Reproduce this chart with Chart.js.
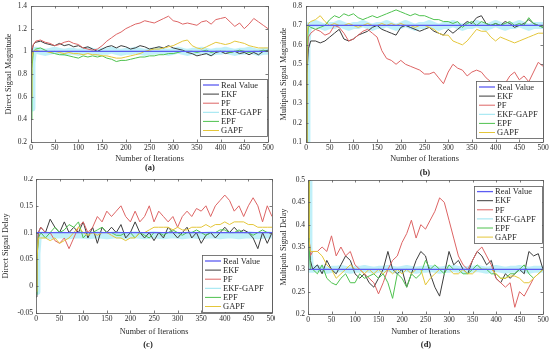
<!DOCTYPE html>
<html>
<head>
<meta charset="utf-8">
<script src="https://cdn.jsdelivr.net/npm/chart.js@4.4.0/dist/chart.umd.min.js"></script>
<style>
  html, body { margin: 0; padding: 0; background: #fff; }
  #wrap { position: relative; width: 550px; height: 352px; overflow: hidden; }
  #wrap canvas { position: absolute; }
  .lbl { position: absolute; font: bold 8.5px "Liberation Serif", serif; color: #222; transform: translate(-50%, -50%); white-space: nowrap; }
</style>
</head>
<body>
<div id="wrap">
  <canvas id="chartA" width="275" height="176" style="left:0;top:0"></canvas>
  <canvas id="chartB" width="275" height="176" style="left:275px;top:0"></canvas>
  <canvas id="chartC" width="275" height="176" style="left:0;top:176px"></canvas>
  <canvas id="chartD" width="275" height="176" style="left:275px;top:176px"></canvas>
  <div class="lbl" style="left:150px;top:167px">(a)</div>
  <div class="lbl" style="left:425px;top:172px">(b)</div>
  <div class="lbl" style="left:148px;top:344px">(c)</div>
  <div class="lbl" style="left:426px;top:344px">(d)</div>
</div>
<script>
// DATA
const iterations = [0, 2, 5, 10, 20, 30, 40, 50, 60, 70,
  80, 90, 100, 110, 120, 130, 140, 150, 160, 170,
  180, 190, 200, 210, 220, 230, 240, 250, 260, 270,
  280, 290, 300, 310, 320, 330, 340, 350, 360, 370,
  380, 390, 400, 410, 420, 430, 440, 450, 460, 470,
  480, 490, 500];
const seriesNames = ['Real Value', 'EKF', 'PF', 'EKF-GAPF', 'EPF', 'GAPF'];

// (a) direct signal magnitude
const realValueA = 1.0;
const ekfA = [0.9, 1.0, 1.06, 1.08, 1.09, 1.07, 1.06, 1.05, 1.07, 1.05,
  1.06, 1.04, 1.05, 1.03, 1.04, 1.02, 1.0, 1.02, 1.04, 1.05,
  1.03, 1.05, 1.04, 1.02, 1.03, 1.05, 1.04, 1.02, 1.03, 1.04,
  1.03, 1.05, 1.03, 1.02, 1.01, 0.99, 0.98, 0.96, 0.97, 0.98,
  0.96, 0.99, 1.0, 0.98, 0.99, 1.0, 0.98, 0.99, 0.97, 0.99,
  0.97, 1.0, 1.01];
const pfA = [0.95, 1.02, 1.06, 1.09, 1.1, 1.08, 1.07, 1.05, 1.06, 1.08,
  1.09, 1.07, 1.06, 1.03, 1.02, 1.01, 1.02, 1.05, 1.09, 1.12,
  1.15, 1.17, 1.2, 1.22, 1.24, 1.25, 1.27, 1.26, 1.25, 1.27,
  1.29, 1.31, 1.27, 1.26, 1.24, 1.25, 1.24, 1.23, 1.26, 1.27,
  1.24, 1.28, 1.29, 1.3, 1.26, 1.22, 1.25, 1.2, 1.24, 1.29,
  1.26, 1.23, 1.2];
const ekfgapfA = [0.5, 0.9, 1.0, 1.01, 1.0, 0.99, 1.0, 1.01, 1.0, 0.99,
  1.0, 1.0, 0.99, 1.0, 1.01, 1.0, 0.99, 1.0, 1.0, 1.01,
  1.0, 0.99, 1.0, 1.0, 1.01, 1.0, 0.99, 1.0, 1.0, 1.01,
  1.0, 0.99, 1.0, 1.01, 1.0, 0.99, 1.0, 1.0, 1.01, 1.0,
  0.99, 1.0, 1.0, 1.01, 1.0, 0.99, 1.0, 1.0, 1.01, 1.0,
  0.99, 1.0, 1.0];
const epfA = [0.4, 0.85, 1.0, 1.02, 1.03, 1.01, 0.99, 0.98, 0.97, 0.97,
  0.96, 0.95, 0.94, 0.96, 0.95, 0.96, 0.95, 0.96, 0.94, 0.93,
  0.91, 0.92, 0.92, 0.93, 0.94, 0.95, 0.95, 0.96, 0.96, 0.97,
  0.97, 0.98, 0.98, 0.99, 1.0, 1.0, 1.0, 0.99, 1.0, 1.01,
  0.99, 1.0, 1.0, 1.0, 0.99, 1.0, 1.01, 1.0, 0.99, 1.0,
  1.0, 1.01, 1.0];
const gapfA = [0.6, 0.95, 1.0, 1.01, 1.0, 1.0, 0.99, 1.0, 0.99, 0.98,
  0.99, 0.98, 0.98, 0.97, 0.98, 0.97, 0.97, 0.96, 0.96, 0.95,
  0.94, 0.94, 0.95, 0.96, 0.97, 0.98, 1.0, 1.01, 1.02, 1.02,
  1.03, 1.04, 1.05, 1.07, 1.09, 1.1, 1.05, 1.03, 1.02, 1.04,
  1.06, 1.08, 1.07, 1.06, 1.07, 1.09, 1.08, 1.07, 1.05, 1.04,
  1.03, 1.03, 1.03];

// (b) multipath signal magnitude
const realValueB = 0.7;
const ekfB = [0.1, 0.45, 0.58, 0.62, 0.62, 0.61, 0.62, 0.64, 0.66, 0.68,
  0.63, 0.62, 0.63, 0.65, 0.66, 0.67, 0.69, 0.7, 0.68, 0.67,
  0.66, 0.65, 0.69, 0.7, 0.69, 0.68, 0.67, 0.68, 0.69, 0.67,
  0.66, 0.65, 0.68, 0.66, 0.68, 0.7, 0.72, 0.71, 0.74, 0.75,
  0.71, 0.7, 0.71, 0.7, 0.72, 0.71, 0.69, 0.7, 0.71, 0.73,
  0.71, 0.7, 0.69];
const pfB = [0.1, 0.5, 0.64, 0.66, 0.68, 0.67, 0.65, 0.66, 0.7, 0.69,
  0.66, 0.62, 0.63, 0.65, 0.67, 0.68, 0.66, 0.64, 0.57, 0.53,
  0.52, 0.5, 0.52, 0.5, 0.49, 0.48, 0.47, 0.45, 0.45, 0.46,
  0.43, 0.4, 0.46, 0.5, 0.48, 0.47, 0.44, 0.46, 0.47, 0.46,
  0.43, 0.41, 0.39, 0.4, 0.4, 0.44, 0.46, 0.42, 0.44, 0.41,
  0.46, 0.51, 0.49];
const ekfgapfB = [0.1, 0.6, 0.7, 0.7, 0.71, 0.7, 0.69, 0.7, 0.7, 0.71,
  0.7, 0.69, 0.7, 0.7, 0.71, 0.7, 0.69, 0.7, 0.7, 0.71,
  0.7, 0.69, 0.7, 0.71, 0.7, 0.69, 0.7, 0.7, 0.71, 0.7,
  0.69, 0.7, 0.7, 0.71, 0.7, 0.69, 0.7, 0.7, 0.71, 0.7,
  0.69, 0.7, 0.71, 0.7, 0.69, 0.7, 0.7, 0.71, 0.7, 0.69,
  0.7, 0.7, 0.7];
const epfB = [0.1, 0.55, 0.7, 0.69, 0.68, 0.69, 0.7, 0.73, 0.75, 0.74,
  0.76, 0.75, 0.76, 0.74, 0.73, 0.74, 0.75, 0.74, 0.75, 0.76,
  0.77, 0.78, 0.77, 0.76, 0.75, 0.76, 0.75, 0.75, 0.74, 0.73,
  0.73, 0.72, 0.72, 0.71, 0.72, 0.69, 0.71, 0.72, 0.7, 0.72,
  0.71, 0.7, 0.71, 0.7, 0.71, 0.72, 0.7, 0.71, 0.7, 0.74,
  0.71, 0.7, 0.69];
const gapfB = [0.1, 0.65, 0.71, 0.72, 0.73, 0.75, 0.72, 0.7, 0.71, 0.7,
  0.7, 0.71, 0.7, 0.69, 0.7, 0.71, 0.7, 0.7, 0.71, 0.7,
  0.71, 0.7, 0.71, 0.7, 0.7, 0.69, 0.7, 0.7, 0.69, 0.68,
  0.66, 0.65, 0.65, 0.62, 0.61, 0.6, 0.62, 0.65, 0.68, 0.67,
  0.67, 0.64, 0.62, 0.64, 0.63, 0.62, 0.61, 0.62, 0.63, 0.64,
  0.65, 0.66, 0.66];

// (c) direct signal delay
const realValueC = 0.1;
const ekfC = [-0.02, 0.05, 0.1, 0.11, 0.1, 0.125, 0.11, 0.1, 0.12, 0.1,
  0.11, 0.1, 0.12, 0.09, 0.11, 0.08, 0.11, 0.1, 0.11, 0.1,
  0.115, 0.09, 0.1, 0.12, 0.1, 0.09, 0.1, 0.085, 0.1, 0.09,
  0.11, 0.1, 0.09, 0.1, 0.11, 0.09, 0.1, 0.08, 0.095, 0.1,
  0.09, 0.1, 0.11, 0.1, 0.11, 0.1, 0.105, 0.1, 0.09, 0.07,
  0.1, 0.08, 0.1];
const pfC = [0.0, 0.06, 0.1, 0.11, 0.1, 0.1, 0.085, 0.08, 0.09, 0.07,
  0.09, 0.11, 0.12, 0.1, 0.11, 0.13, 0.12, 0.14, 0.13, 0.14,
  0.15, 0.13, 0.12, 0.14, 0.12, 0.13, 0.15, 0.12, 0.14, 0.13,
  0.12, 0.13, 0.11, 0.13, 0.14, 0.13, 0.145, 0.14, 0.15, 0.13,
  0.15, 0.16, 0.17, 0.16, 0.14, 0.15, 0.13, 0.15, 0.165, 0.15,
  0.12, 0.15, 0.13];
const ekfgapfC = [-0.01, 0.06, 0.095, 0.095, 0.096, 0.094, 0.095, 0.096, 0.095, 0.094,
  0.095, 0.096, 0.095, 0.094, 0.095, 0.096, 0.095, 0.094, 0.095, 0.096,
  0.095, 0.094, 0.095, 0.096, 0.095, 0.094, 0.095, 0.096, 0.095, 0.094,
  0.095, 0.096, 0.095, 0.094, 0.095, 0.096, 0.095, 0.094, 0.095, 0.096,
  0.095, 0.094, 0.095, 0.096, 0.095, 0.094, 0.095, 0.096, 0.095, 0.094,
  0.095, 0.096, 0.095];
const epfC = [-0.015, 0.05, 0.09, 0.1, 0.09, 0.1, 0.11, 0.1, 0.105, 0.115,
  0.11, 0.12, 0.09, 0.1, 0.1, 0.105, 0.11, 0.1, 0.1, 0.095,
  0.095, 0.1, 0.1, 0.09, 0.1, 0.095, 0.09, 0.1, 0.1, 0.095,
  0.1, 0.105, 0.1, 0.095, 0.1, 0.1, 0.105, 0.1, 0.095, 0.1,
  0.1, 0.105, 0.105, 0.1, 0.1, 0.105, 0.1, 0.1, 0.095, 0.1,
  0.105, 0.1, 0.1];
const gapfC = [-0.01, 0.05, 0.09, 0.09, 0.09, 0.085, 0.09, 0.08, 0.085, 0.09,
  0.1, 0.11, 0.1, 0.095, 0.1, 0.095, 0.1, 0.1, 0.095, 0.09,
  0.09, 0.085, 0.09, 0.09, 0.1, 0.1, 0.105, 0.11, 0.11, 0.11,
  0.11, 0.105, 0.11, 0.105, 0.105, 0.11, 0.11, 0.11, 0.115, 0.11,
  0.115, 0.115, 0.12, 0.115, 0.12, 0.12, 0.12, 0.115, 0.115, 0.11,
  0.11, 0.11, 0.11];

// (d) multipath signal delay
const realValueD = 0.3;
const ekfD = [0.5, 0.38, 0.32, 0.3, 0.31, 0.29, 0.32, 0.3, 0.29, 0.31,
  0.33, 0.32, 0.29, 0.28, 0.29, 0.27, 0.26, 0.28, 0.3, 0.34,
  0.3, 0.29, 0.3, 0.26, 0.29, 0.32, 0.34, 0.33, 0.29, 0.26,
  0.24, 0.29, 0.34, 0.31, 0.32, 0.3, 0.29, 0.32, 0.34, 0.33,
  0.31, 0.32, 0.28, 0.27, 0.29, 0.28, 0.29, 0.3, 0.29, 0.34,
  0.33, 0.335, 0.3];
const pfD = [0.5, 0.38, 0.33, 0.34, 0.34, 0.35, 0.34, 0.375, 0.33, 0.35,
  0.33, 0.34, 0.31, 0.3, 0.29, 0.28, 0.27, 0.245, 0.27, 0.3,
  0.32, 0.33, 0.36, 0.38, 0.41, 0.37, 0.4, 0.39, 0.41, 0.43,
  0.46, 0.45, 0.41, 0.37, 0.33, 0.31, 0.3, 0.32, 0.34, 0.35,
  0.33, 0.31, 0.28, 0.27, 0.26, 0.27, 0.215, 0.25, 0.24, 0.26,
  0.28, 0.29, 0.3];
const ekfgapfD = [0.5, 0.35, 0.3, 0.3, 0.302, 0.3, 0.298, 0.3, 0.3, 0.302,
  0.3, 0.298, 0.3, 0.3, 0.302, 0.3, 0.298, 0.3, 0.3, 0.302,
  0.3, 0.298, 0.3, 0.302, 0.3, 0.298, 0.3, 0.3, 0.302, 0.3,
  0.298, 0.3, 0.3, 0.302, 0.3, 0.298, 0.3, 0.3, 0.302, 0.3,
  0.298, 0.3, 0.302, 0.3, 0.298, 0.3, 0.3, 0.302, 0.3, 0.298,
  0.3, 0.3, 0.3];
const epfD = [0.5, 0.36, 0.3, 0.3, 0.29, 0.31, 0.28, 0.27, 0.265, 0.28,
  0.29, 0.27, 0.27, 0.29, 0.28, 0.285, 0.29, 0.28, 0.29, 0.27,
  0.235, 0.29, 0.28, 0.26, 0.29, 0.28, 0.29, 0.32, 0.3, 0.31,
  0.3, 0.29, 0.31, 0.3, 0.3, 0.29, 0.29, 0.3, 0.31, 0.3,
  0.3, 0.29, 0.29, 0.28, 0.28, 0.29, 0.29, 0.3, 0.31, 0.29,
  0.28, 0.29, 0.3];
const gapfD = [0.5, 0.37, 0.34, 0.34, 0.34, 0.33, 0.31, 0.3, 0.28, 0.29,
  0.3, 0.31, 0.3, 0.3, 0.29, 0.3, 0.29, 0.3, 0.29, 0.3,
  0.29, 0.3, 0.29, 0.3, 0.29, 0.3, 0.3, 0.265, 0.28, 0.29,
  0.3, 0.3, 0.3, 0.29, 0.29, 0.3, 0.29, 0.29, 0.3, 0.3,
  0.3, 0.3, 0.29, 0.28, 0.28, 0.285, 0.285, 0.28, 0.27, 0.27,
  0.28, 0.29, 0.3];

// STYLE
const lineColors  = ['#5c5cf2', '#3c3c3c', '#dd6464', '#98e4f0', '#4fc24f', '#e4c63a'];
const bandColor   = 'rgba(140, 228, 244, 0.55)';
const frameColor  = '#5a5a5a';
const textColor   = '#2a2a2a';
const serif       = '"Liberation Serif", "Times New Roman", serif';

Chart.defaults.font.family = serif;
Chart.defaults.color = textColor;

const panels = [
  { id: 'chartA', yTitle: 'Direct Signal Magnitude', yMin: 0.2, yMax: 1.4, yStep: 0.2,
    real: realValueA, series: [ekfA, pfA, ekfgapfA, epfA, gapfA],
    area: { left: 31, right: 268, top: 6, bottom: 142 }, yTitlePad: 4, yTickPad: 4, xTitleY: 159,
    legend: { right: 1, bottom: 6, width: 67 } },
  { id: 'chartB', yTitle: 'Multipath Signal Magnitude', yMin: 0.1, yMax: 0.8, yStep: 0.1,
    real: realValueB, series: [ekfB, pfB, ekfgapfB, epfB, gapfB],
    area: { left: 31, right: 268, top: 6, bottom: 142 }, yTitlePad: 4, yTickPad: 4, xTitleY: 159,
    legend: { right: 0, bottom: 4, width: 67 } },
  { id: 'chartC', yTitle: 'Direct Signal Delay', yMin: -0.05, yMax: 0.2, yStep: 0.05,
    real: realValueC, series: [ekfC, pfC, ekfgapfC, epfC, gapfC],
    area: { left: 36, right: 272, top: 3, bottom: 137 }, yTitlePad: 1, yTickPad: 3, xTitleY: 156,
    legend: { right: 0, bottom: 1, width: 70 } },
  { id: 'chartD', yTitle: 'Multipath Signal Delay', yMin: 0.2, yMax: 0.5, yStep: 0.05,
    real: realValueD, series: [ekfD, pfD, ekfgapfD, epfD, gapfD],
    area: { left: 33, right: 268, top: 4, bottom: 138 }, yTitlePad: 4, yTickPad: 3, xTitleY: 156,
    legend: { right: 1, top: 6, width: 68 } }
];

// MATLAB-like box with inward ticks on all four sides
const boxFrame = {
  id: 'boxFrame',
  afterDatasetsDraw(chart) {
    const { ctx, chartArea: a, scales: { x, y } } = chart;
    const tl = 2.5;
    ctx.save();
    ctx.strokeStyle = frameColor;
    ctx.lineWidth = 0.8;
    ctx.strokeRect(a.left + 0.5, a.top + 0.5, a.right - a.left, a.bottom - a.top);
    ctx.beginPath();
    x.ticks.forEach(t => {
      const px = Math.round(x.getPixelForValue(t.value)) + 0.5;
      ctx.moveTo(px, a.bottom); ctx.lineTo(px, a.bottom - tl);
      ctx.moveTo(px, a.top);    ctx.lineTo(px, a.top + tl);
    });
    y.ticks.forEach(t => {
      const py = Math.round(y.getPixelForValue(t.value)) + 0.5;
      ctx.moveTo(a.left, py);  ctx.lineTo(a.left + tl, py);
      ctx.moveTo(a.right, py); ctx.lineTo(a.right - tl, py);
    });
    ctx.stroke();
    ctx.restore();
  }
};

// legend box drawn inside the plot area
const insideLegend = {
  id: 'insideLegend',
  afterDraw(chart, args, opts) {
    const { ctx, chartArea: a } = chart;
    const rowH = 9.1;
    const w = opts.width;
    const h = rowH * seriesNames.length + 2;
    const bx = a.right - opts.right - w;
    const by = opts.top != null ? a.top + opts.top : a.bottom - opts.bottom - h;
    ctx.save();
    ctx.fillStyle = '#fff';
    ctx.fillRect(bx, by, w, h);
    ctx.strokeStyle = frameColor;
    ctx.lineWidth = 0.8;
    ctx.strokeRect(Math.round(bx) + 0.5, Math.round(by) + 0.5, Math.round(w), Math.round(h));
    ctx.font = '8.5px ' + serif;
    ctx.textBaseline = 'middle';
    ctx.textAlign = 'left';
    seriesNames.forEach((name, i) => {
      const cy = by + 5.6 + i * rowH;
      ctx.strokeStyle = lineColors[i];
      ctx.lineWidth = i === 0 ? 1.3 : 1;
      ctx.beginPath();
      ctx.moveTo(bx + 3, cy);
      ctx.lineTo(bx + 19, cy);
      ctx.stroke();
      ctx.fillStyle = textColor;
      ctx.fillText(name, bx + 21, cy + 0.5);
    });
    ctx.restore();
  }
};

// MATLAB style tick text: 1 instead of 1.0, 0.1 instead of 0.10
const plainTick = v => String(parseFloat(Number(v).toFixed(4)));

function toPoints(values) {
  return iterations.map((it, i) => ({ x: it, y: values[i] }));
}

function buildDatasets(real, series) {
  const drawOrder = [4, 3, 10, 2, 1];
  const sets = [{
    label: seriesNames[0],
    data: [{ x: 0, y: real }, { x: 500, y: real }],
    borderColor: lineColors[0],
    borderWidth: 1.3,
    order: 0
  }];
  series.forEach((vals, i) => {
    const isBand = seriesNames[i + 1] === 'EKF-GAPF';
    sets.push({
      label: seriesNames[i + 1],
      data: toPoints(vals),
      borderColor: isBand ? bandColor : lineColors[i + 1],
      borderWidth: isBand ? 7 : 1,
      borderJoinStyle: 'round',
      order: drawOrder[i]
    });
  });
  return sets;
}

panels.forEach(p => {
  const W = 275, H = 176;
  const xAxisH = p.xTitleY + 4.8 - p.area.bottom;
  new Chart(document.getElementById(p.id), {
    type: 'line',
    data: { datasets: buildDatasets(p.real, p.series) },
    plugins: [boxFrame, insideLegend],
    options: {
      responsive: false,
      animation: false,
      events: [],
      elements: { point: { radius: 0 }, line: { tension: 0 } },
      layout: {
        padding: { left: 0, right: W - p.area.right, top: p.area.top, bottom: H - p.area.bottom - xAxisH }
      },
      scales: {
        x: {
          type: 'linear',
          min: 0, max: 500,
          grid: { display: false, drawTicks: false },
          border: { display: false },
          ticks: { stepSize: 50, padding: 2, font: { size: 7.5 }, maxRotation: 0, autoSkip: false, callback: plainTick },
          title: { display: true, text: 'Number of Iterations', font: { size: 8.2 }, padding: 0 },
          afterFit(s) { s.height = xAxisH; s.paddingLeft = 0; s.paddingRight = 0; }
        },
        y: {
          min: p.yMin, max: p.yMax,
          grid: { display: false, drawTicks: false },
          border: { display: false },
          ticks: { stepSize: p.yStep, padding: p.yTickPad, font: { size: 7.5 }, callback: plainTick },
          title: { display: true, text: p.yTitle, font: { size: 8.2 }, padding: { top: p.yTitlePad, bottom: 0 } },
          afterFit(s) { s.width = p.area.left; s.paddingTop = 0; s.paddingBottom = 0; }
        }
      },
      plugins: {
        legend: { display: false },
        tooltip: { enabled: false },
        insideLegend: p.legend
      }
    }
  });
});
</script>
</body>
</html>
